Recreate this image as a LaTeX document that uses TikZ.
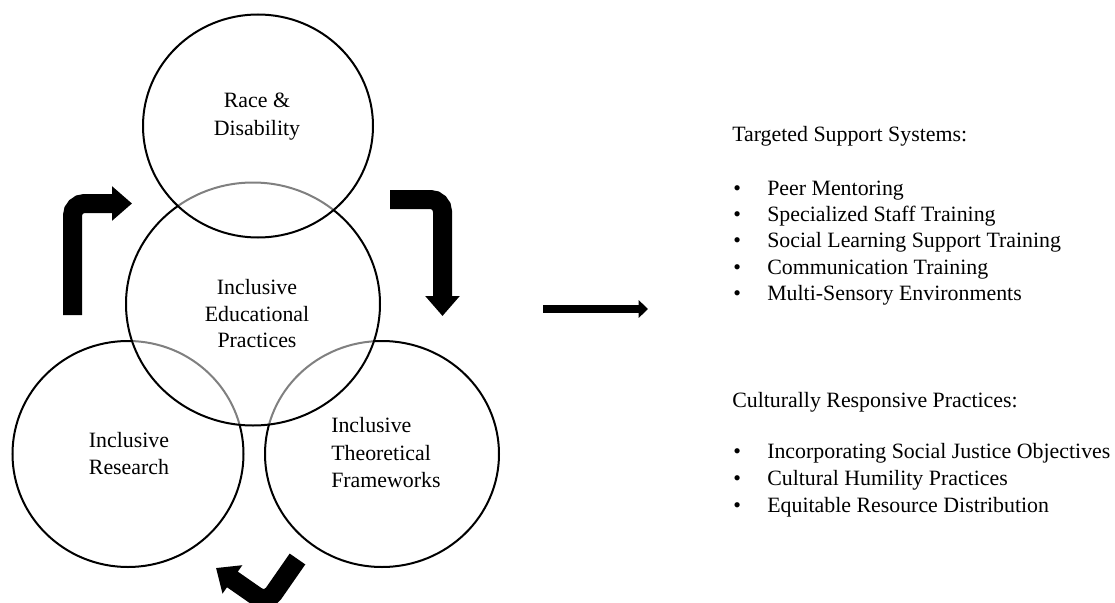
\documentclass[tikz,border=0pt]{standalone}
\usepackage{fontspec}
\setmainfont{Liberation Serif}
\usetikzlibrary{shapes.geometric,arrows.meta}
\tikzset{
  circ/.style 2 args={ellipse, draw=black, line width=1.5pt, fill=white, fill opacity=0.5,
    minimum width=#1*0.75pt, minimum height=#2*0.75pt, inner sep=0pt},
  txt/.style={font=\fontsize{16.4pt}{20pt}\selectfont, inner sep=0pt, anchor=base},
  ltxt/.style={txt, anchor=base west},
  bent/.style={line width=14.25pt, rounded corners=9pt, -{Triangle[length=15pt,width=25pt]}},
  flow/.style={line width=5.4pt, -{Triangle[length=7pt,width=13pt]}}
}
\begin{document}
\begin{tikzpicture}[x=0.75pt,y=-0.75pt]
\useasboundingbox (0,0) rectangle (1115,603);
\clip (0,0) rectangle (1115,603);
% circles (order gives the grey arcs)
\node[circ={231}{226}] (L) at (128,454) {};
\node[circ={234}{226}] (R) at (382,454) {};
\node[circ={254}{243}] (M) at (253,304) {};
\node[circ={230}{223}] (T) at (258,126) {};
% circle texts
\node[txt] (t1) at (257,107) {Race \&};
\node[txt] (t2) at (257,135) {Disability};
\node[txt] (m1) at (257,294) {Inclusive};
\node[txt] (m2) at (257,321) {Educational};
\node[txt] (m3) at (257,347) {Practices};
\node[txt] (l1) at (129,447) {Inclusive};
\node[txt] (l2) at (129,474) {Research};
\node[ltxt] (r1) at (331,432) {Inclusive};
\node[ltxt] (r2) at (331,460) {Theoretical};
\node[ltxt] (r3) at (331,487) {Frameworks};
% cycle arrows
\coordinate (a1s) at (72.5,315);
\coordinate (a1c) at (72.5,203.5);
\coordinate (a1e) at (132,203.5);
\draw[bent] (a1s) -- (a1c) -- (a1e);
\coordinate (a2s) at (390,199.5);
\coordinate (a2c) at (442.5,199.5);
\coordinate (a2e) at (442.5,316);
\draw[bent] (a2s) -- (a2c) -- (a2e);
\coordinate (a3s) at (297.5,559);
\coordinate (a3c) at (266.7,603.3);
\coordinate (a3e) at (216,568);
\draw[bent] (a3s) -- (a3c) -- (a3e);
% main arrow
\coordinate (f1) at (543,309);
\coordinate (f2) at (648,309);
\draw[flow] (f1) -- (f2);
% right lists
\node[ltxt] (h1) at (732,141) {Targeted Support Systems:};
\node[ltxt] (b1) at (733,195) {•};
\node[ltxt] (i1) at (767,195) {Peer Mentoring};
\node[ltxt] (b2) at (733,221) {•};
\node[ltxt] (i2) at (767,221) {Specialized Staff Training};
\node[ltxt] (b3) at (733,247) {•};
\node[ltxt] (i3) at (767,247) {Social Learning Support Training};
\node[ltxt] (b4) at (733,274) {•};
\node[ltxt] (i4) at (767,274) {Communication Training};
\node[ltxt] (b5) at (733,300) {•};
\node[ltxt] (i5) at (767,300) {Multi-Sensory Environments};
\node[ltxt] (h2) at (732,407) {Culturally Responsive Practices:};
\node[ltxt] (b6) at (733,458) {•};
\node[ltxt] (i6) at (767,458) {Incorporating Social Justice Objectives};
\node[ltxt] (b7) at (733,485) {•};
\node[ltxt] (i7) at (767,485) {Cultural Humility Practices};
\node[ltxt] (b8) at (733,512) {•};
\node[ltxt] (i8) at (767,512) {Equitable Resource Distribution};
\end{tikzpicture}
\end{document}
